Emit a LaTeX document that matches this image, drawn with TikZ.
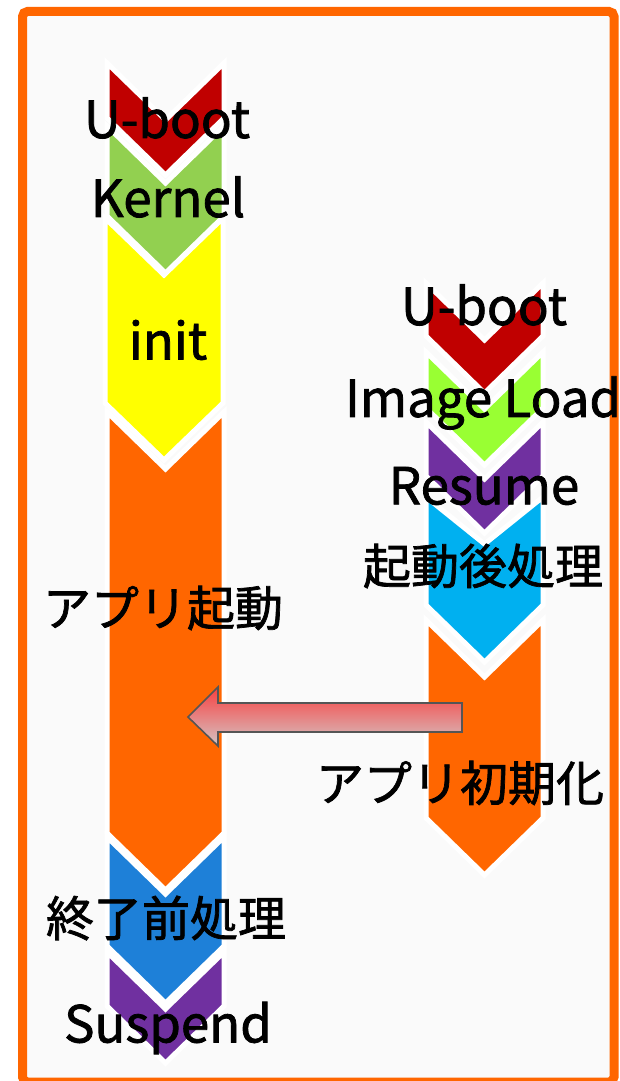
\documentclass[tikz,border=0pt]{standalone}
\usepackage{fontspec}
\setmainfont{Noto Sans CJK JP}[BoldFont={Noto Sans CJK JP}, BoldFeatures={FakeBold=1.5}]
\begin{document}
\begin{tikzpicture}[x=1pt,y=-1pt,
  lbl/.style={font=\fontsize{51}{55}\selectfont\bfseries, text=black, inner sep=0pt, anchor=center},
  jlbl/.style={font=\fontsize{48}{52}\selectfont\bfseries, text=black, inner sep=0pt, anchor=center},
  chevline/.style={draw=white, line width=5pt, line join=miter}]
\useasboundingbox (0,0) rectangle (619,1081);
\definecolor{framecol}{HTML}{FF6600}
\definecolor{bgcol}{HTML}{FAFAFA}
\definecolor{cred}{HTML}{C00000}
\definecolor{cgreen}{HTML}{92D050}
\definecolor{cyellow}{HTML}{FFFF00}
\definecolor{corange}{HTML}{FF6600}
\definecolor{cblue}{HTML}{1E80D8}
\definecolor{cpurple}{HTML}{7030A0}
\definecolor{clime}{HTML}{99FF33}
\definecolor{ccyan}{HTML}{00B0F0}
\definecolor{arrtop}{HTML}{F84040}
\definecolor{arrbot}{HTML}{D4C4C4}
\definecolor{arrline}{HTML}{555555}
\newcommand\chevshape[7]{%
  \filldraw[fill=#1, chevline] (#2,#4) -- ({(#2+#3)/2},{#4+#5}) -- (#3,#4) -- (#3,{#6-#7}) -- ({(#2+#3)/2},#6) -- (#2,{#6-#7}) -- cycle;}
% frame
\begin{scope}
\clip (0,0) rectangle (619,1081);
\fill[white] (0,0) rectangle (619,1081);
\draw[draw=framecol, fill=bgcol, line width=9pt, rounded corners=5pt] (22.5,11.5) rectangle (614,1082);
\end{scope}
% left column
\chevshape{cred}{107}{224}{63}{57}{175}{57}
\chevshape{cgreen}{107}{224}{126}{57}{273}{57}
\chevshape{cyellow}{105}{223}{218}{57}{460}{57}
\chevshape{corange}{107}{224}{412}{57}{890}{57}
\chevshape{cblue}{107}{224}{837}{57}{1003}{57}
\chevshape{cpurple}{107}{224}{952}{57}{1063}{57}
% right column
\chevshape{cred}{426}{543}{283}{57}{393}{57}
\chevshape{clime}{426}{543}{352}{57}{465}{57}
\chevshape{cpurple}{426}{543}{422}{57}{533}{57}
\chevshape{ccyan}{426}{543}{497}{47}{662}{57}
\chevshape{corange}{426}{543}{620}{57}{875}{57}
% arrow
\draw[arrline, line width=1.6pt, line join=miter, top color=arrtop, bottom color=arrbot]
  (462,703) -- (218,703) -- (218,687) -- (188,717) -- (218,746) -- (218,732) -- (462,732) -- cycle;
% labels
\node[lbl] (l1) at (167,118) {U-boot};
\node[lbl] (l2) at (168,197) {Kernel};
\node[lbl] (l3) at (168,340) {init};
\node[jlbl] (l4) at (163,608) {アプリ起動};
\node[jlbl] (l5) at (166,918) {終了前処理};
\node[lbl] (l6) at (168,1028) {Suspend};
\node[lbl] (r1) at (484,305) {U-boot};
\node[lbl] (r2) at (483,403) {Image Load};
\node[lbl] (r3) at (484,486) {Resume};
\node[jlbl] (r4) at (483,566) {起動後処理};
\node[jlbl] (r5) at (460,783) {アプリ初期化};
\end{tikzpicture}
\end{document}
